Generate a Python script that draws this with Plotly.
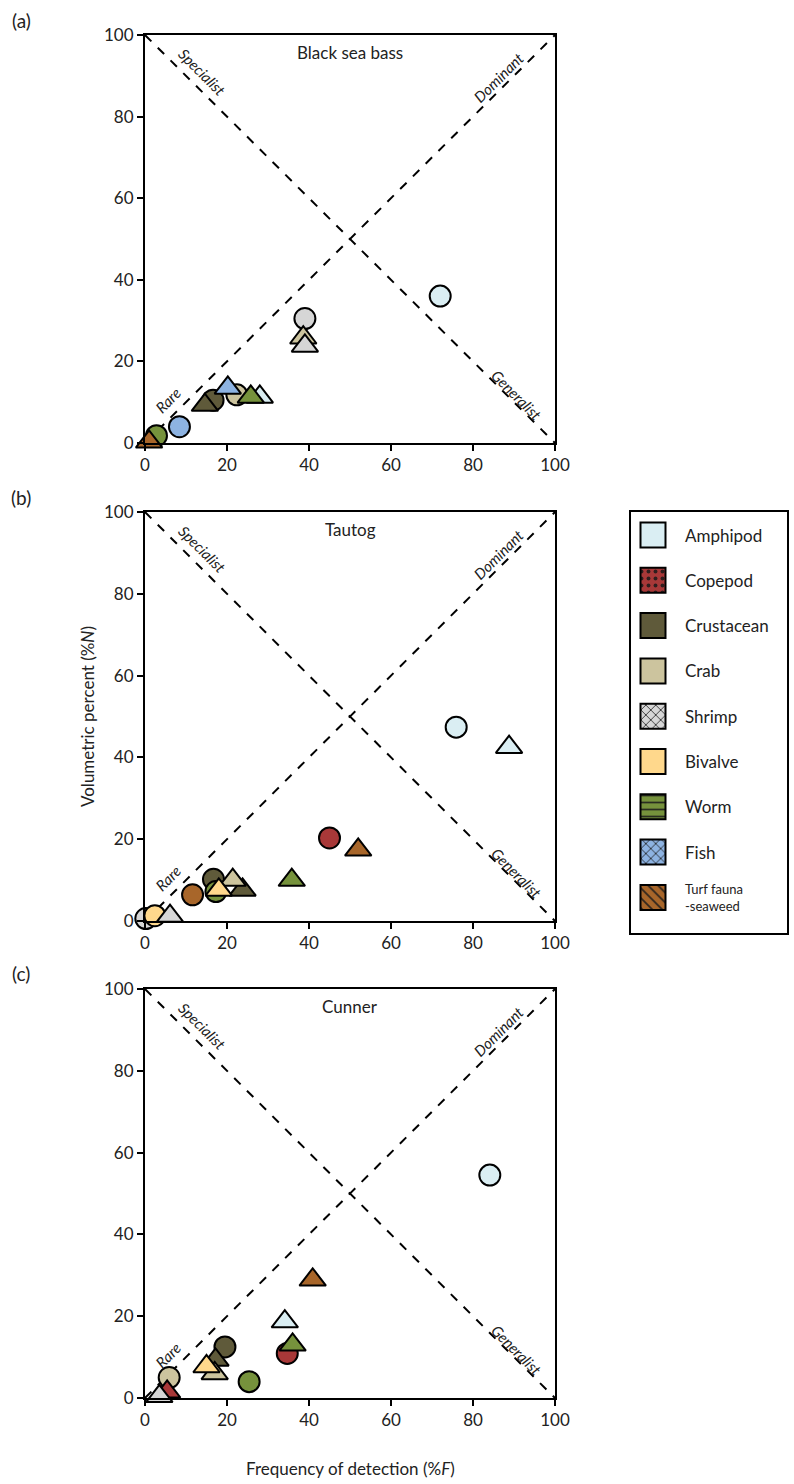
import plotly.graph_objects as go

# ---------------- data ----------------
categories = ["Amphipod", "Copepod", "Crustacean", "Crab", "Shrimp",
              "Bivalve", "Worm", "Fish", "Turf fauna-seaweed"]
legend_labels = ["Amphipod", "Copepod", "Crustacean", "Crab", "Shrimp",
                 "Bivalve", "Worm", "Fish", "Turf fauna<br>-seaweed"]
colors = ["#DAEEF3", "#A83838", "#5F5A3A", "#CCC49E", "#D6D6D6",
          "#FFD88C", "#76923C", "#8DB3E2", "#A8662A"]
patterns = ["", ".", "", "", "x", "", "-", "x", "\\"]

panel_titles = ["Black sea bass", "Tautog", "Cunner"]
panel_tags = ["(a)", "(b)", "(c)"]
tick_vals = [0, 20, 40, 60, 80, 100]

# Black sea bass
bsb_circ_cat = ["Amphipod", "Crustacean", "Crab", "Shrimp", "Worm", "Fish"]
bsb_circ_F = [72, 16.6, 22.4, 39, 2.8, 8.4]
bsb_circ_N = [36, 10.5, 11.8, 30.5, 1.8, 4]
bsb_tri_cat = ["Amphipod", "Crustacean", "Crab", "Shrimp", "Worm", "Fish", "Turf fauna-seaweed"]
bsb_tri_F = [28, 14.6, 38.6, 39, 25.8, 20.2, 1]
bsb_tri_N = [11.3, 9.3, 25.8, 23.8, 11.3, 13.5, 0.3]

# Tautog
tau_circ_cat = ["Amphipod", "Copepod", "Crustacean", "Shrimp", "Bivalve", "Worm", "Turf fauna-seaweed"]
tau_circ_F = [75.9, 45, 16.7, 0.2, 2.4, 17.3, 11.6]
tau_circ_N = [47.4, 20.3, 10.2, 0.6, 1.3, 7.2, 6.4]
tau_tri_cat = ["Amphipod", "Copepod", "Crustacean", "Crab", "Shrimp", "Bivalve", "Worm", "Turf fauna-seaweed"]
tau_tri_F = [88.8, 5.3, 23.8, 21.4, 6.1, 18, 35.8, 52]
tau_tri_N = [42.5, -1, 7.6, 10, 1.2, 7.6, 10, 17.4]

# Cunner
cun_circ_cat = ["Amphipod", "Copepod", "Crustacean", "Crab", "Worm", "Fish"]
cun_circ_F = [84.1, 34.7, 19.5, 5.9, 25.4, 2.5]
cun_circ_N = [54.5, 10.9, 12.5, 5, 4, -0.8]
cun_tri_cat = ["Amphipod", "Copepod", "Crustacean", "Crab", "Shrimp", "Bivalve", "Worm", "Fish", "Turf fauna-seaweed"]
cun_tri_F = [34.1, 5.4, 17.2, 17, 3.5, 15, 36, 0.8, 40.9]
cun_tri_N = [18.7, 1.5, 9.3, 6, 0.4, 7.7, 13, -0.2, 28.9]

panels = [
    (bsb_circ_cat, bsb_circ_F, bsb_circ_N, bsb_tri_cat, bsb_tri_F, bsb_tri_N),
    (tau_circ_cat, tau_circ_F, tau_circ_N, tau_tri_cat, tau_tri_F, tau_tri_N),
    (cun_circ_cat, cun_circ_F, cun_circ_N, cun_tri_cat, cun_tri_F, cun_tri_N),
]

# ---------------- layout helpers ----------------
W, H = 794, 1484
FONT = "Lato"
TXT = "#222222"
def px_x(p): return p / W
def px_y(p): return 1 - p / H

plot_left, plot_right = 145, 555
panel_tops = [35, 512, 989]
panel_bottoms = [443, 921, 1398]

color_of = dict(zip(categories, colors))

fig = go.Figure()
layout = dict(
    width=W, height=H, autosize=False,
    margin=dict(l=0, r=0, t=0, b=0, pad=0, autoexpand=False),
    paper_bgcolor="white", plot_bgcolor="white",
    showlegend=False, font=dict(family=FONT, color="#000000"),
)
annotations = []

for i, (cc, cf, cn, tc, tf, tn) in enumerate(panels):
    ax = "" if i == 0 else str(i + 1)
    xa, ya = "x" + ax, "y" + ax
    axis_common = dict(
        range=[0, 100], tickvals=tick_vals, showgrid=False, zeroline=False,
        showline=True, mirror=True, linecolor="black", linewidth=2,
        ticks="outside", ticklen=6, tickwidth=2, tickcolor="black", automargin=False,
        tickfont=dict(family=FONT, size=17, color=TXT),
    )
    layout["xaxis" + ax] = dict(axis_common, domain=[px_x(plot_left), px_x(plot_right)],
                                anchor=ya)
    layout["yaxis" + ax] = dict(axis_common, domain=[px_y(panel_bottoms[i]), px_y(panel_tops[i])],
                                anchor=xa)
    # guide diagonals
    fig.add_trace(go.Scatter(x=[0, 100], y=[100, 0], mode="lines", xaxis=xa, yaxis=ya,
                             line=dict(color="black", width=2, dash="dash"), hoverinfo="skip"))
    fig.add_trace(go.Scatter(x=[0, 100], y=[0, 100], mode="lines", xaxis=xa, yaxis=ya,
                             line=dict(color="black", width=2, dash="dash"), hoverinfo="skip"))
    # circles
    fig.add_trace(go.Scatter(
        x=cf, y=cn, mode="markers", xaxis=xa, yaxis=ya, cliponaxis=False,
        text=cc, marker=dict(symbol="circle", size=21,
                             color=[color_of[c] for c in cc],
                             line=dict(color="black", width=2))))
    # triangles
    fig.add_trace(go.Scatter(
        x=tf, y=tn, mode="markers", xaxis=xa, yaxis=ya, cliponaxis=False,
        text=tc, marker=dict(symbol="triangle-up", size=23,
                             color=[color_of[c] for c in tc],
                             line=dict(color="black", width=2))))
    # texts
    annotations += [
        dict(text=panel_titles[i], x=50, y=95.8, xref=xa, yref=ya, showarrow=False,
             font=dict(family=FONT, size=17, color=TXT)),
        dict(text="<i>Specialist</i>", x=14, y=91, xref=xa, yref=ya, showarrow=False,
             textangle=45, font=dict(family=FONT, size=15, color=TXT)),
        dict(text="<i>Dominant</i>", x=86.3, y=89.7, xref=xa, yref=ya, showarrow=False,
             textangle=-45, font=dict(family=FONT, size=15, color=TXT)),
        dict(text="<i>Generalist</i>", x=90.7, y=11.8, xref=xa, yref=ya, showarrow=False,
             textangle=45, font=dict(family=FONT, size=15, color=TXT)),
        dict(text="<i>Rare</i>", x=5.6, y=10.5, xref=xa, yref=ya, showarrow=False,
             textangle=-45, font=dict(family=FONT, size=15, color=TXT)),
        dict(text=panel_tags[i], x=px_x(21), y=px_y(panel_tops[i] - 15), xref="paper", yref="paper",
             xanchor="center", yanchor="middle",
             showarrow=False, font=dict(family=FONT, size=19, color=TXT)),
    ]

# ---------------- legend panel ----------------
leg_left, leg_right, leg_top, leg_bottom = 631, 787, 512, 933
layout["xaxis4"] = dict(domain=[px_x(leg_left), px_x(leg_right)], range=[0, leg_right - leg_left],
                        anchor="y4", showline=True, mirror=True, linecolor="black", linewidth=2,
                        showgrid=False, zeroline=False, showticklabels=False, ticks="")
layout["yaxis4"] = dict(domain=[px_y(leg_bottom), px_y(leg_top)], range=[leg_bottom - leg_top, 0],
                        anchor="x4", showline=True, mirror=True, linecolor="black", linewidth=2,
                        showgrid=False, zeroline=False, showticklabels=False, ticks="")
leg_y = [23 + 45.3 * k for k in range(len(categories))]
sw = 25  # swatch size in legend-axis units (= pixels)
n = len(categories)
# solid colour swatches
fig.add_trace(go.Bar(
    x=[22] * n, y=[sw] * n, base=[v - sw / 2 for v in leg_y],
    width=[sw] * n, xaxis="x4", yaxis="y4", hoverinfo="skip",
    marker=dict(color=colors, line=dict(width=0))))
# dark texture overlay, only for textured categories
tex_idx = [k for k in range(n) if patterns[k]]
fig.add_trace(go.Bar(
    x=[22] * len(tex_idx), y=[sw] * len(tex_idx), base=[leg_y[k] - sw / 2 for k in tex_idx],
    width=[sw] * len(tex_idx), xaxis="x4", yaxis="y4", hoverinfo="skip",
    marker=dict(color="rgba(26,26,26,0.85)", line=dict(width=0),
                pattern=dict(shape=[patterns[k] for k in tex_idx], fillmode="replace",
                             bgcolor="rgba(0,0,0,0)", size=7, solidity=0.25))))
# outlines
fig.add_trace(go.Bar(
    x=[22] * n, y=[sw] * n, base=[v - sw / 2 for v in leg_y],
    width=[sw] * n, xaxis="x4", yaxis="y4", hoverinfo="skip",
    marker=dict(color="rgba(0,0,0,0)", line=dict(color="black", width=2))))
for k, lab in enumerate(legend_labels):
    is_two = "<br>" in lab
    annotations.append(dict(
        text=lab, x=52, y=leg_y[k], xref="x4", yref="y4", xanchor="left", yanchor="middle",
        showarrow=False, align="left",
        font=dict(family=FONT, size=13 if is_two else 17, color=TXT)))

# ---------------- axis titles ----------------
annotations.append(dict(text="Volumetric percent (%<i>N</i>)", x=px_x(87), y=px_y(717),
                        xref="paper", yref="paper", showarrow=False, textangle=-90,
                        xanchor="center", yanchor="middle",
                        font=dict(family=FONT, size=17, color=TXT)))
annotations.append(dict(text="Frequency of detection (%<i>F</i>)", x=px_x(350), y=px_y(1468),
                        xref="paper", yref="paper", showarrow=False,
                        xanchor="center", yanchor="middle",
                        font=dict(family=FONT, size=17, color=TXT)))

layout["annotations"] = annotations
layout["barmode"] = "overlay"
fig.update_layout(**layout)
fig.write_html("out.html")
